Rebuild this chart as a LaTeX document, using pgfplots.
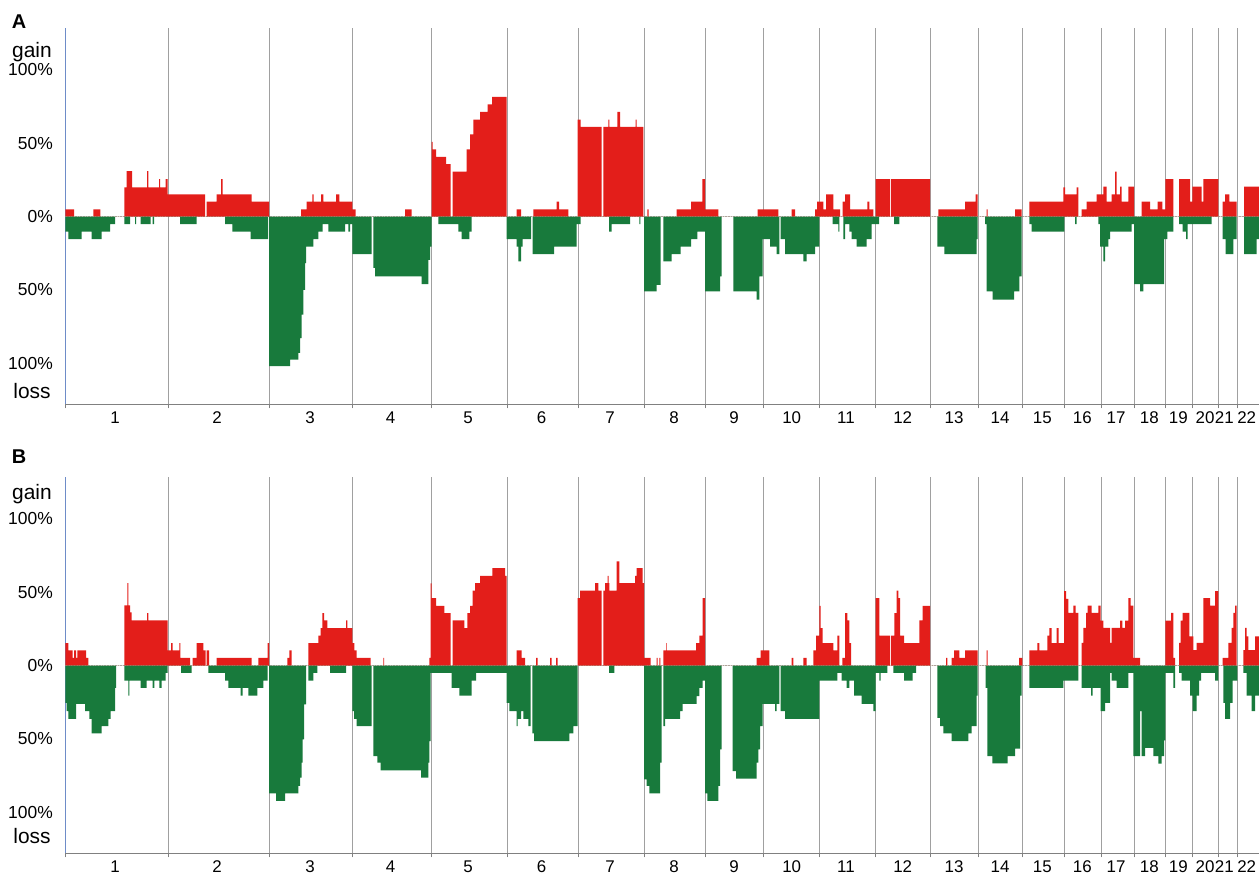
\documentclass[border=0pt]{standalone}
\usepackage{fontspec}
\setmainfont{Liberation Sans}
\usepackage{pgfplots}
\pgfplotsset{compat=1.18}
\definecolor{gainred}{RGB}{227,30,26}
\definecolor{lossgreen}{RGB}{24,122,60}
\definecolor{gridgray}{RGB}{160,160,160}
\definecolor{axisblue}{RGB}{110,140,200}

\pgfplotsset{cnv/.style={
  scale only axis, width=1193.7bp, height=376bp,
  xmin=65.3, xmax=1259, ymin=-128, ymax=128.4,
  axis x line*=bottom, axis y line*=left,
  x axis line style={draw=gray, line width=0.8bp, -},
  y axis line style={draw=axisblue, line width=1bp, -},
  xtick={65.3,168,269,352.3,431.7,507,578,644,705.3,763,819.3,875.7,930.7,978.3,1022.3,1064,1101.3,1134,1165.3,1192,1218.3,1237.3,1259},
  xticklabels={},
  xmajorgrids, major grid style={draw=gridgray, line width=0.8bp},
  tick align=outside, major tick length=4bp,
  xtick style={draw=gray, line width=0.8bp},
  extra x ticks={115,217,310,390.7,468,541.7,610,674,734,791.7,846,902.7,954,1000,1042.3,1082.3,1116,1149.3,1178.3,1205,1224.3,1246.7},
  extra x tick labels={1,2,3,4,5,6,7,8,9,10,11,12,13,14,15,16,17,18,19,20,21,22},
  extra x tick style={grid=none, major tick length=0pt, xtick style={draw=none},
     xticklabel style={inner sep=0.5bp, yshift=-7bp}},
  ytick={-100,-50,0,50,100}, yticklabels={100\%,50\%,0\%,50\%,100\%},
  ytick style={draw=none},
  yticklabel style={xshift=-5bp, font=\fontsize{17.5}{20}\selectfont},
  xticklabel style={font=\fontsize{17}{20}\selectfont},
  clip=false,
}}

\begin{document}
\begin{tikzpicture}
\useasboundingbox (0,0) rectangle (1259bp,876bp);

% ---------------- Panel A ----------------
\begin{axis}[cnv, at={(65.3bp,471.7bp)}, anchor=south west]
\addplot[draw=gray!50, densely dotted, line width=0.6bp] coordinates {(65.3,0) (1259,0)};
\addplot[const plot, fill=gainred, draw=none] coordinates {
(65.3,0) (65.3,5) (74,0) (93.3,5) (100.3,0) (124.3,20) (126.7,31) (132,20) (147,31) (148.3,20) (159,25.6) (160,20) (165.7,25.6) (167.7,15.2) (205,0) (206.7,10.2) (216.7,15.2) (221,25.6) (222.7,15.2) (251.7,10.2) (269,0) (301,5) (306.7,10.2) (312.3,15.2) (313.7,10.2) (321,15.2) (323.3,10.2) (336,15.2) (339.3,10.2) (352.3,5) (355.7,0) (405,5) (411.7,0) (431.7,51) (432.7,45.8) (436,40.8) (446,35.8) (450.7,0) (452.7,30.6) (466.7,45.8) (470,56) (473.3,66.2) (480,71.4) (487.7,76.6) (492,81.6) (506.7,0) (516.7,5) (521,0) (533.3,5) (556.7,10.2) (559,5) (568.3,0) (577.7,66.2) (580.7,61.2) (601.7,0) (603.3,61.2) (608.3,66.2) (609.3,61.2) (617.3,71.4) (620,61.2) (635.7,66.2) (636.7,61.2) (643.3,0) (647.3,5) (648.7,0) (676.7,5) (691,10.2) (702.3,25.6) (705,5) (718.3,0) (757.7,5) (778.3,0) (791.7,5) (795,0) (815,5) (817,10.2) (823.3,5) (826,15.2) (833.3,5) (840,0) (842.7,10.2) (845,15.2) (850,5) (867.3,10.2) (869.3,5) (873.3,0) (875.7,25.6) (890,0) (891,25.6) (930,0) (938.3,5) (965,10.2) (975.7,15.2) (977.7,0) (986.7,5) (987.7,0) (1015,5) (1021.7,0) (1029.3,10.2) (1063.3,20) (1065,15.2) (1076.7,20) (1078.3,0) (1081.7,5) (1086.7,10.2) (1096.7,15.2) (1103.3,20.5) (1106.7,10.2) (1111.7,15.2) (1115,30.6) (1116.7,15.2) (1120,20.5) (1121.7,10.2) (1128.3,20.5) (1134,0) (1141.7,10.2) (1150,5) (1157.7,10.2) (1162.3,5) (1165.3,25.6) (1173.3,0) (1179,25.6) (1190,10.2) (1192.3,20.5) (1201.7,10.2) (1203.3,25.6) (1218.3,0) (1222.7,10.2) (1225,15.2) (1229.3,10.2) (1236.7,0) (1244,20.5) (1259,0)
} \closedcycle;
\addplot[const plot, fill=lossgreen, draw=none] coordinates {
(65.3,0) (65.3,-10.2) (68.3,-15.4) (81.7,-10.2) (91.7,-15.4) (101.7,-10.2) (110,-5.2) (115,0) (124.3,-5.2) (130,0) (135,-5.2) (136,0) (140.7,-5.2) (150.7,0) (152.7,-5.2) (154,0) (180,-5.2) (196.7,0) (225,-5.2) (232.3,-10.2) (250.7,-15.4) (268,0) (269,-102) (290,-97.5) (298.3,-93) (300,-82.8) (301.7,-66.9) (303.3,-49.9) (305,-31.7) (306,-20.4) (313.3,-15.4) (318.3,-10.2) (322.7,-5.2) (328.3,-10.2) (345,-5.2) (348.3,-10.2) (350,-5.2) (352.3,-25.6) (371.7,0) (373.3,-35) (375,-40.8) (421.7,-46) (428.3,-29.5) (430,-20.4) (431.7,0) (438.3,-5.2) (458.3,-10.2) (461.7,-15.4) (469.3,-10.2) (471.7,0) (506.7,-15.4) (516.7,-20.4) (518.3,-30.6) (521,-20.4) (522.7,-15.4) (531,0) (532.7,-25.6) (554,-20.4) (576.7,-5.2) (580.7,0) (609,-10.2) (611.7,-5.2) (630,0) (639.3,-5.2) (640.3,0) (644,-51) (656.7,-46.5) (660.7,0) (663.3,-30.6) (671.7,-25.6) (680.7,-20.4) (691,-15.4) (697.3,-10.2) (705,-51) (720,-40.8) (721.7,0) (733.3,-51) (756.7,-56.7) (759.3,-40.8) (762.7,-15.4) (770,-20.4) (776.7,-25.6) (779.3,0) (780.7,-15.4) (785,-25.6) (803.3,-30.6) (806.7,-25.6) (815,-20.4) (819.3,0) (832.7,-5.2) (838.3,-10.2) (839.3,0) (843.3,-15.4) (845,-5.2) (849.3,-10.2) (851.7,-15.4) (856.7,-20.4) (866.7,-15.4) (871.7,-5.2) (879,0) (894,-5.2) (899.3,0) (937.3,-20.4) (944.3,-25.6) (976.7,-15.4) (977.7,0) (985,-5.2) (986.7,-51) (992.7,-56.7) (1014,-51) (1019.3,-40.8) (1021.7,0) (1029.3,-5.2) (1031.7,-10.2) (1064.3,0) (1075,-5.2) (1076.7,0) (1098.3,-5.2) (1100,-20.4) (1103.3,-30.6) (1105,-20.4) (1108.3,-15.4) (1110,-10.2) (1131.7,-5.2) (1134,-46) (1140,-51) (1143.3,-46) (1164,-15.4) (1167.3,-10.2) (1173.3,0) (1179,-5.2) (1182.7,-10.2) (1186,-15.4) (1187.7,-5.2) (1211.7,0) (1222.7,-15.4) (1225.7,-25.6) (1233.3,-15.4) (1236.7,0) (1244,-25.6) (1256.7,-15.4) (1259,0)
} \closedcycle;
\end{axis}

% ---------------- Panel B ----------------
\begin{axis}[cnv, at={(65.3bp,22.7bp)}, anchor=south west]
\addplot[draw=gray!50, densely dotted, line width=0.6bp] coordinates {(65.3,0) (1259,0)};
\addplot[const plot, fill=gainred, draw=none] coordinates {
(65.3,0) (65.3,15.4) (68.3,10.4) (72.7,5.2) (74,10.4) (76,5.2) (77.3,10.4) (86,5.2) (88.3,0) (124.3,41) (127.3,56.2) (128.3,41) (130,36.3) (131.7,30.8) (147,35.8) (148.3,30.8) (167.7,10.4) (171,15.4) (172.7,10.4) (179.3,15.4) (180.3,5.2) (190,0) (192.7,5.2) (196.7,15.4) (203.3,10.4) (205.7,0) (206.7,10.4) (209,0) (216.7,5.2) (251.7,0) (258.3,5.2) (267.7,15.4) (269,0) (287.3,5.2) (289.3,10.4) (291.7,0) (308.3,15.4) (318.3,20.4) (320.7,25.6) (322.3,35.8) (324,30.8) (327.3,25.6) (346,30.8) (347.3,25.6) (352.3,15.4) (354.3,10.4) (356.7,5.2) (370.7,0) (383.3,5.2) (384,0) (429.3,5.2) (430.7,56) (431.7,46) (436,40.8) (444.3,35.8) (450.7,0) (452.7,30.8) (464.3,25.6) (467.3,35.8) (470,40.8) (472.7,51.2) (475,56.2) (480,61.2) (492.3,66.4) (505,61.2) (506.7,0) (516.7,10.4) (521.7,5.2) (525,0) (536,5.2) (537.7,0) (550,5.2) (551.7,0) (556,5.2) (557.7,0) (577.7,46) (580,51.2) (595,56.2) (598.3,51.2) (601.7,0) (603.3,51.2) (605,56.2) (607.7,61.2) (608.7,56.2) (609.3,51.2) (616.7,71) (619.3,56.2) (635,61.2) (636.7,66.4) (642.7,56.2) (644,5.2) (650.7,0) (656.7,5.2) (657.7,0) (659.3,5.2) (660.3,0) (663.3,10.4) (666,15.4) (666.7,10.4) (696,15.4) (699.3,20.4) (702.7,46) (705,0) (756.7,5.2) (760.7,10.4) (769.3,0) (791.7,5.2) (793.3,0) (803.3,5.2) (806.7,0) (813.3,10.4) (816,20.4) (819.3,40.8) (820.7,25.6) (822.7,15.4) (833.3,10.4) (837.3,20.4) (839.3,0) (842.3,5.2) (845,35.8) (847.3,30.8) (849.3,15.4) (851,0) (875.7,46) (879.3,20.4) (890,0) (891,20.4) (894.3,35.8) (896.7,51.2) (898.3,46) (900,20.4) (904,15.4) (919.3,30.8) (922.7,40.8) (930,0) (946,5.2) (947.3,0) (951.7,5.2) (954,10.4) (959.3,5.2) (965,10.4) (977.7,0) (986.7,10.4) (987.7,0) (1019,5.2) (1022.3,0) (1029.3,10.4) (1037.3,15.4) (1039.3,10.4) (1047.3,20.4) (1049.3,25.6) (1051.7,15.4) (1056.7,25.6) (1058.7,15.4) (1064,50.7) (1066,45.5) (1068.3,35.9) (1073.3,40.9) (1075.7,35.9) (1078.3,0) (1081.7,15.5) (1083.3,25.7) (1086,35.9) (1087.7,40.9) (1091.7,35.9) (1098.3,40.9) (1100.7,30.7) (1103.3,25.7) (1110,15.5) (1111.7,25.7) (1120,30.7) (1122.3,25.7) (1125,30.7) (1128.3,46) (1130.7,40.9) (1133.3,5.2) (1140,0) (1165.3,30.7) (1171,35.9) (1173.3,5.2) (1175,0) (1179,15.5) (1180.7,30.7) (1182.7,35.9) (1189.3,20) (1193.3,10.5) (1196.7,15.5) (1203.3,46) (1210,40.9) (1215,50.7) (1218.3,0) (1222.7,5.2) (1228.3,15.5) (1231.7,25.7) (1233.3,35.9) (1235,40.9) (1236.7,0) (1243.3,10.5) (1245,25.7) (1246.7,20) (1248.3,10.5) (1255,20) (1259,0)
} \closedcycle;
\addplot[const plot, fill=lossgreen, draw=none] coordinates {
(65.3,0) (65.3,-25.4) (66.7,-31) (68.3,-36.3) (76,-26.1) (85,-31) (89.3,-36.3) (91.7,-46.3) (101.7,-41.3) (108.3,-36.3) (110.7,-31) (115,-15.2) (116,0) (124.3,-10.2) (128.3,-20.4) (129.3,-10.2) (140.7,-15.2) (146.7,-10.2) (152.7,-15.2) (154.3,-10.2) (159.3,-15.2) (161.7,-10.2) (165.7,-5) (167.7,0) (181,-5) (191.7,0) (208.3,-5) (225,-10.2) (228.3,-15.2) (240.7,-20.4) (242.7,-15.2) (248.3,-20.4) (257.3,-15.2) (263.3,-10.2) (267.7,0) (269,-87.1) (276,-92.3) (285,-87.1) (298.3,-82) (300,-76.4) (301.7,-66.2) (302.7,-50.3) (304,-26.5) (306,0) (308.3,-10.2) (313.3,-5) (317.3,0) (330,-5) (346,0) (352.3,-31) (354,-36.3) (356.7,-41.3) (371.7,0) (373.3,-61.7) (377.3,-66.2) (380.7,-71.4) (421,-76.4) (428.3,-66.2) (429.3,-51.5) (430.7,-5) (451.7,-15.2) (459.3,-20.4) (471.7,-10.2) (476,-5) (506.7,-25.4) (509.3,-31) (516.7,-41.3) (517.7,-36.3) (521,-31) (523.3,-36.3) (528.3,-41.3) (530.7,0) (532.3,-46.3) (534,-51.5) (569.3,-46.3) (573.3,-41.3) (577.7,0) (609,-5) (614.3,0) (644,-77.6) (646.7,-82) (649.3,-87.1) (660,-66.2) (661.7,0) (663.3,-41.3) (665,-36.3) (680,-31) (682.7,-26.1) (696.7,-20.9) (699.3,-15.2) (702.7,-10.2) (705,-87.1) (707.3,-92.3) (718.3,-82) (720,-57.1) (721.7,0) (732.7,-71.9) (736,-77.1) (756.7,-66.2) (758.3,-57.1) (760,-41.3) (762.7,-26.1) (775,-31) (776.7,-26.1) (779.3,0) (780.7,-31) (785,-36.3) (819.3,-10.2) (837.3,-5) (841.7,-10.2) (846.7,-15.2) (849.3,-10.2) (854,-20.4) (861.7,-26.1) (873.3,-31) (875.7,-5) (879.3,-10.2) (880.7,-5) (887.3,0) (893.3,-5) (904,-10.2) (912.7,-5) (916,0) (937.3,-35.6) (940,-41.3) (943.3,-46.3) (951.7,-51.5) (968.3,-46.3) (971.7,-41.3) (976.7,-20.4) (977.7,0) (985.7,-15.2) (987.3,-61.7) (992.3,-66.7) (1007.7,-61.7) (1015,-56.7) (1020,-20.4) (1021.7,0) (1029.3,-15.2) (1063.3,-10.2) (1078.3,0) (1081.7,-15.2) (1091,-20.5) (1092.7,-15.2) (1100.7,-31) (1105,-25.5) (1110,-5) (1111.7,-10.2) (1116.7,-15.2) (1128.3,-5) (1133.3,-61.8) (1140,-31) (1141.7,-61.8) (1145,-56.1) (1153.3,-61.8) (1158.3,-66.8) (1161.7,-61.8) (1164,-51) (1165.3,-5) (1173.3,-15.2) (1175,0) (1179,-5) (1181.7,-10.2) (1190,-20.5) (1192.7,-31) (1196.7,-20.4) (1199,-10.2) (1201,-5) (1215,-10.2) (1218.3,0) (1223.3,-25.4) (1225,-36.3) (1230,-25.4) (1232.7,-10.2) (1237.3,0) (1243.3,-5) (1246.7,-20.5) (1251.7,-31) (1255,-20.5) (1259,0)
} \closedcycle;
\end{axis}

% ---------------- Labels ----------------
\node[font=\bfseries\fontsize{20}{22}\selectfont] at (19bp,854.3bp) {A};
\node[font=\bfseries\fontsize{20}{22}\selectfont] at (19bp,419bp) {B};
\node[font=\fontsize{21}{24}\selectfont] at (32bp,824bp) {gain};
\node[font=\fontsize{21}{24}\selectfont] at (32bp,485.2bp) {loss};
\node[font=\fontsize{21}{24}\selectfont] at (32bp,382bp) {gain};
\node[font=\fontsize{21}{24}\selectfont] at (32bp,40.2bp) {loss};
\end{tikzpicture}
\end{document}
